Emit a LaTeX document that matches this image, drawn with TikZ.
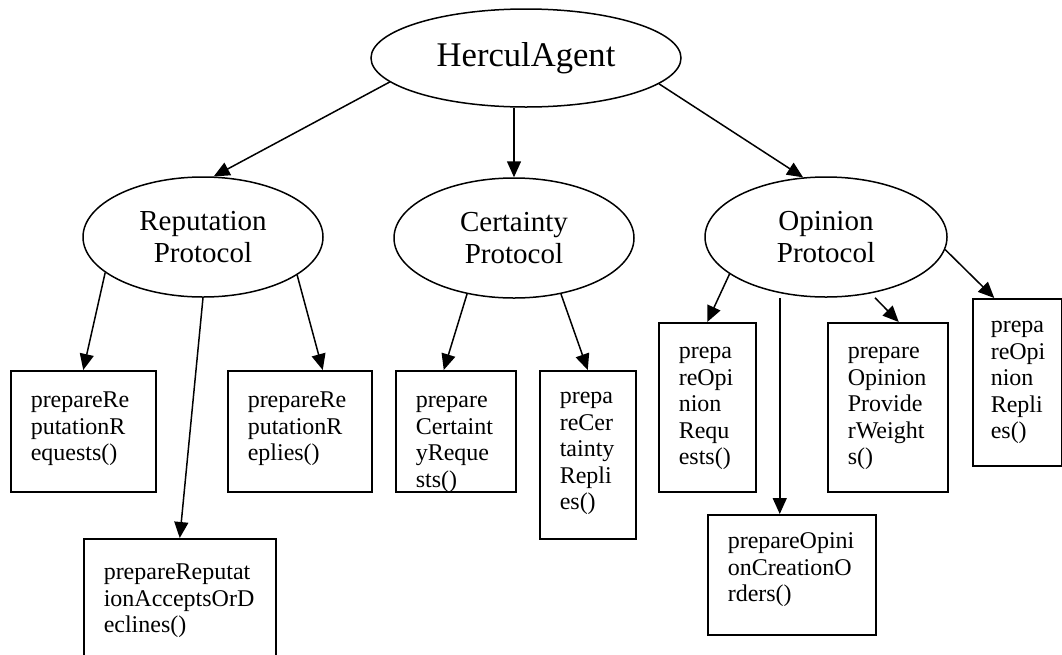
\documentclass[tikz,border=0pt]{standalone}
\usepackage{fontspec}
\setmainfont{Liberation Serif}
\usetikzlibrary{shapes.geometric,arrows.meta}
\tikzset{
  ell/.style={draw, ellipse, line width=1.5pt, inner sep=0pt, align=center,
    font=\fontsize{29}{32}\selectfont},
  fbox/.style={draw, rectangle, line width=1.5pt, anchor=north west, align=left,
    inner xsep=20pt, inner ysep=0pt, text height=37pt,
    font=\fontsize{24}{26.5}\selectfont},
  arr/.style={line width=1.5pt, -{Triangle[length=16pt,width=14pt]}}
}
\begin{document}
\begin{tikzpicture}[x=1pt,y=-1pt]
\useasboundingbox (0,0) rectangle (1062,654);
\clip (0,0) rectangle (1062,654);
% ellipses
\node[ell, minimum width=310pt, minimum height=98pt, font=\fontsize{34.6}{38}\selectfont] (H) at (526,58) {HerculAgent};
\node[ell, minimum width=240pt, minimum height=120pt] (Rep) at (203,237) {Reputation\\Protocol};
\node[ell, minimum width=240pt, minimum height=120pt] (C) at (514,238) {Certainty\\Protocol};
\node[ell, minimum width=242pt, minimum height=120pt] (Op) at (826,237) {Opinion\\Protocol};
% boxes
\node[fbox, text width=105pt, text depth=84pt] (R1) at (10,370) {prepareRe\\putationR\\equests()};
\node[fbox, text width=104pt, text depth=84pt] (R2) at (227,370) {prepareRe\\putationR\\eplies()};
\node[fbox, text width=152pt, text depth=84pt, text height=41pt] (R3) at (83,538) {prepareReputat\\ionAcceptsOrD\\eclines()};
\node[fbox, text width=80pt, text depth=84pt] (C1) at (395,370) {prepare\\Certaint\\yReque\\sts()};
\node[fbox, text width=56pt, text depth=135pt, text height=33pt] (C2) at (539,370) {prepa\\reCer\\tainty\\Repli\\es()};
\node[fbox, text width=57pt, text depth=133pt, text height=36pt] (O1) at (658,322) {prepa\\reOpi\\nion\\Requ\\ests()};
\node[fbox, text width=128pt, text depth=86pt, text height=34pt] (O2) at (707,514) {prepareOpini\\onCreationO\\rders()};
\node[fbox, text width=80pt, text depth=133pt, text height=36pt] (O3) at (827,322) {prepare\\Opinion\\Provide\\rWeight\\s()};
\node[fbox, text width=53pt, inner xsep=18pt, text depth=133pt, text height=34pt] (O4) at (972,298) {prepa\\reOpi\\nion\\Repli\\es()};
% connectors
\draw[arr] (H.190.2) -- (Rep.80.5);
\draw[arr] (H.south -| C.north) -- (C.north);
\draw[arr] (H.349.8) -- (Op.111.8);
\draw[arr] (Rep.200.3) -- (R1.north);
\draw[arr] (Rep.south) -- (R3.north);
\draw[arr] (Rep.338.6) -- ([xshift=23pt]R2.north);
\draw[arr] (C.230.9) -- ([xshift=-12pt]C1.north);
\draw[arr] (C.310.7) -- (C2.north);
\draw[arr] (Op.201.3) -- (O1.north);
\coordinate (o2top) at ([xshift=-12pt]O2.north);
\draw[arr] (o2top |- Op.south) -- (o2top);
\draw[arr] ([xshift=49pt]Op.south) -- ([xshift=11pt]O3.north);
\draw[arr] (Op.354) -- ([xshift=-23pt]O4.north);
\end{tikzpicture}
\end{document}
